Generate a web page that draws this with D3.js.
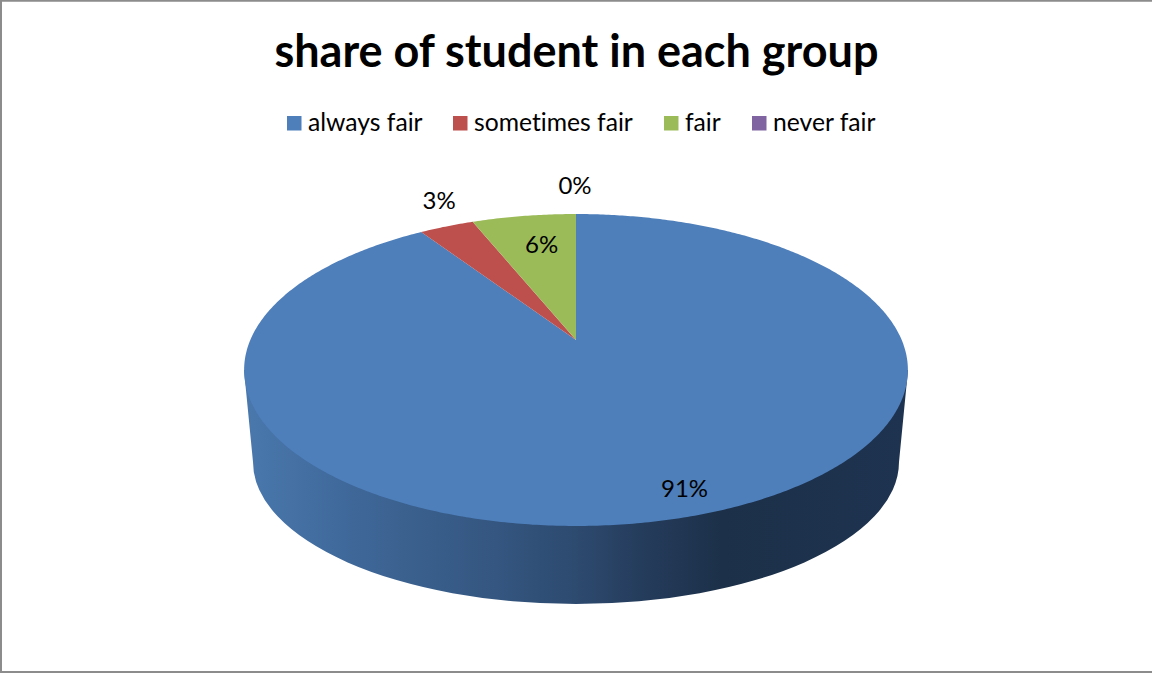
<!DOCTYPE html>
<html><head><meta charset="utf-8">
<script src="https://cdn.jsdelivr.net/npm/d3@7/dist/d3.min.js"></script>
<style>html,body{margin:0;padding:0;background:#fff;overflow:hidden}svg{display:block}text{font-family:Lato,"Open Sans",sans-serif;fill:#000;font-variant-ligatures:none}</style>
</head><body><svg id="c" width="1152" height="673"></svg>
<script>
const chartTitle = "share of student in each group";
const categories = ["always fair","sometimes fair","fair","never fair"];
const shares = [90.7,3.2,6.1,0];
const colors = ["#4e7fbb","#bd4f4c","#9bbb59","#8064a2"];

const W=1152,H=673;
const svg=d3.select("#c");
// frame
svg.append("path").attr("d",`M1,${H}V0.75H${W}`).attr("fill","none").attr("stroke","#8c8c8c").attr("stroke-width",2);
svg.append("line").attr("x1",0).attr("x2",W).attr("y1",672).attr("y2",672).attr("stroke","#8c8c8c").attr("stroke-width",2);

// title
svg.append("text").attr("x",576.5).attr("y",67).attr("text-anchor","middle")
  .attr("font-size",45).attr("font-weight",700).text(chartTitle);

// legend
const legendX=[287,453,664,752];
const lg=svg.append("g").selectAll("g").data(categories).join("g")
  .attr("transform",(d,i)=>`translate(${legendX[i]},116)`);
lg.append("rect").attr("width",14.5).attr("height",14.5).attr("fill",(d,i)=>colors[i]);
lg.append("text").attr("x",21).attr("y",15).attr("font-size",24.7).text(d=>d);

// perspective projection of the tilted disc
const cx=576, apexY=340, a=325.7, b=150.2, k=-0.1923;
const project=(t,r=1)=>{const u=Math.sin(t)*r,v=-Math.cos(t)*r,w=1+k*v;return [cx+a*u/w,apexY+b*v/w];};
const total=d3.sum(shares);
const arcs=d3.pie().sort(null).value(d=>d)(shares);

// side wall
const defs=svg.append("defs");
const grad=defs.append("linearGradient").attr("id","wall").attr("gradientUnits","userSpaceOnUse")
  .attr("x1",244).attr("x2",908).attr("y1",0).attr("y2",0);
[[0,"#4a78ad"],[0.14,"#406a9c"],[0.24,"#3b618f"],[0.38,"#345680"],[0.5,"#2d4a6f"],[0.61,"#243b5a"],[0.72,"#1c3049"],[1,"#1e3350"]]
  .forEach(s=>grad.append("stop").attr("offset",s[0]).attr("stop-color",s[1]));
svg.append("path")
  .attr("d","M244,370 L253,462 A323,142 0 0 0 899,462 L908,370 Z")
  .attr("fill","url(#wall)");

// top slices
const slicePath=d=>{
  const n=Math.max(2,Math.ceil((d.endAngle-d.startAngle)/0.01));
  const ts=d3.range(n+1).map(i=>d.startAngle+(d.endAngle-d.startAngle)*i/n);
  return "M"+cx+","+apexY+"L"+ts.map(t=>project(t).join(",")).join("L")+"Z";
};
svg.append("g").selectAll("path").data(arcs).join("path")
  .attr("d",slicePath).attr("fill",(d,i)=>colors[i]);

// data labels
const labelLayout=[{r:.85,dx:14,dy:4},{r:1.05,dx:-2,dy:-21},{r:.72,dx:5,dy:-2},{r:1.15,dx:-1,dy:-13}];
svg.append("g").selectAll("text").data(arcs).join("text")
  .attr("text-anchor","middle").attr("font-size",24)
  .attr("transform",(d,i)=>{
    const m=(d.startAngle+d.endAngle)/2,p=project(m,labelLayout[i].r);
    return `translate(${p[0]+labelLayout[i].dx},${p[1]+labelLayout[i].dy+8})`;
  })
  .text(d=>d3.format(".0f")(d.value/total*100)+"%");
</script></body></html>
